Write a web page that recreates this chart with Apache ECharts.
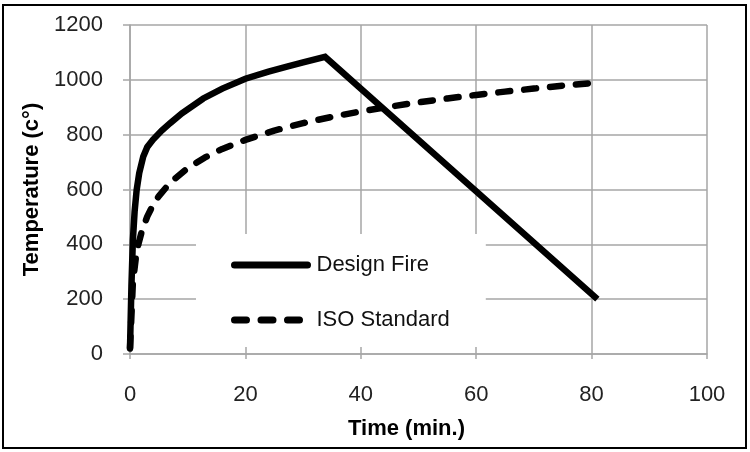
<!DOCTYPE html>
<html>
<head>
<meta charset="utf-8">
<script src="https://cdn.jsdelivr.net/npm/echarts@6/dist/echarts.min.js"></script>
<style>
  html, body { margin: 0; padding: 0; background: #fff; }
  #chart { width: 750px; height: 452px; }
</style>
</head>
<body>
<div id="chart"></div>
<script>
// design fire curve (time in min, temperature in °C)
const designTime = [0, 0.25, 0.5, 0.8, 1.15, 1.6, 2.3, 3, 4, 5.5, 7, 9, 12.7, 16, 20, 24, 27.2, 30, 33.8, 81]
const designTemp = [20, 250, 416, 520, 598, 660, 720, 755, 782, 815, 843, 878, 932, 968, 1004, 1030, 1048, 1064, 1084, 200]

// ISO standard curve
const isoTime = [0, 0.5, 1, 1.5, 2, 3, 4, 5, 7, 10, 13, 16, 20, 25, 30, 35, 40, 45, 50, 55, 60, 65, 70, 75, 81]
const isoTemp = [20, 261, 349, 404, 444, 502, 544, 576, 626, 678, 717, 748, 781, 815, 842, 865, 885, 902, 918, 932, 945, 957, 968, 979, 990]

const seriesNames = ['Design Fire', 'ISO Standard']

const FONT = 'Liberation Sans, Arial, sans-serif'
const GRID = '#a6a6a6'

const chart = echarts.init(document.getElementById('chart'))

function pairs(xs, ys) {
  return xs.map((x, i) => [x, ys[i]])
}

chart.setOption({
  backgroundColor: '#fff',
  animation: false,

  grid: {
    left: 130,
    right: 43,
    top: 25,
    bottom: 98
  },

  graphic: [
    {
      type: 'rect',
      shape: { x: 3, y: 5, width: 743, height: 443 },
      style: { fill: 'none', stroke: '#000', lineWidth: 2 },
      silent: true,
      z: 100
    }
  ],

  legend: {
    left: 196,
    top: 234,
    orient: 'vertical',
    backgroundColor: '#fff',
    padding: [20, 36, 16, 35],
    itemGap: 33,
    itemWidth: 73,
    itemHeight: 14,
    // hide the circle marker, keep a thick line
    itemStyle: { opacity: 0 },
    lineStyle: { width: 7, color: '#000', cap: 'round' },
    textStyle: {
      fontFamily: FONT,
      fontSize: 22,
      color: '#111',
      lineHeight: 22,
      padding: [0, 0, 0, 4]
    },
    data: [
      { name: seriesNames[0] },
      { name: seriesNames[1], lineStyle: { type: [12, 14.5], dashOffset: 0 } }
    ]
  },

  xAxis: {
    type: 'value',
    min: 0,
    max: 100,
    interval: 20,
    name: 'Time (min.)',
    nameLocation: 'middle',
    nameGap: 64,
    nameTextStyle: {
      fontFamily: FONT,
      fontSize: 22,
      fontWeight: 'bold',
      color: '#000',
      padding: [0, 24, 0, 0]
    },
    axisLine: { lineStyle: { color: GRID, width: 1.5 } },
    axisTick: { show: true, length: 5, lineStyle: { color: GRID, width: 1.5 } },
    axisLabel: {
      margin: 30,
      fontFamily: FONT,
      fontSize: 22,
      color: '#222'
    },
    splitLine: { show: true, lineStyle: { color: GRID, width: 1.5 } }
  },

  yAxis: {
    type: 'value',
    min: 0,
    max: 1200,
    interval: 200,
    name: 'Temperature (c°)',
    nameLocation: 'middle',
    nameGap: 78,
    nameTextStyle: {
      fontFamily: FONT,
      fontSize: 22,
      fontWeight: 'bold',
      color: '#000'
    },
    axisLine: { show: true, lineStyle: { color: GRID, width: 1.5 } },
    axisTick: { show: true, length: 7, lineStyle: { color: GRID, width: 1.5 } },
    axisLabel: {
      margin: 27,
      fontFamily: FONT,
      fontSize: 22,
      color: '#222',
      formatter: v => String(v)
    },
    splitLine: { show: true, lineStyle: { color: GRID, width: 1.5 } }
  },

  series: [
    {
      name: seriesNames[0],
      type: 'line',
      symbol: 'none',
      smooth: false,
      color: '#000',
      lineStyle: { color: '#000', width: 6.5, join: 'miter', cap: 'butt' },
      data: pairs(designTime, designTemp)
    },
    {
      name: seriesNames[1],
      type: 'line',
      symbol: 'none',
      smooth: false,
      color: '#000',
      lineStyle: { color: '#000', width: 6.5, type: [12, 14], cap: 'round', join: 'round' },
      data: pairs(isoTime, isoTemp)
    }
  ]
})
</script>
</body>
</html>
